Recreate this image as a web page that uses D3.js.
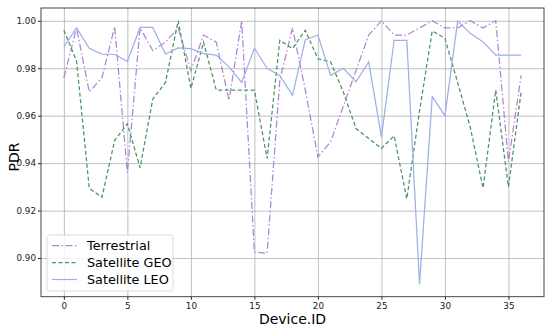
<!DOCTYPE html>
<html>
<head>
<meta charset="utf-8">
<script src="https://cdn.jsdelivr.net/npm/d3@7"></script>
<style>
  body { margin: 0; background: #fff; }
  text { font-family: "DejaVu Sans", sans-serif; }
  .grid line { stroke: #b0b0b0; stroke-width: 0.8; }
  .grid path { display: none; }
  .axis text { font-size: 8.8px; fill: #222; }
  .axis line { stroke: #222; }
  .axis path { display: none; }
  .line { fill: none; }
</style>
</head>
<body>
<div id="chart"></div>
<script>
const deviceIds = d3.range(0, 37);

const terrestrial = [0.976, 0.997, 0.970, 0.976, 0.9975, 0.936, 0.997, 0.9875, 0.991, 0.997,
                     0.979, 0.994, 0.991, 0.9665, 1.000, 0.9025, 0.902, 0.975, 0.997, 0.971,
                     0.9426, 0.949, 0.964, 0.979, 0.994, 1.000, 0.994, 0.994, 0.997, 1.000,
                     0.997, 0.997, 1.000, 0.997, 1.000, 0.9405, 0.977];

const satelliteGEO = [0.996, 0.983, 0.9294, 0.9256, 0.9496, 0.9566, 0.938, 0.967, 0.974, 1.000,
                      0.9715, 0.991, 0.9708, 0.9708, 0.9708, 0.9708, 0.942, 0.9918, 0.9883, 0.996,
                      0.984, 0.9827, 0.970, 0.9546, 0.9504, 0.9462, 0.9515, 0.925, 0.962, 0.9957,
                      0.9926, 0.974, 0.955, 0.9295, 0.9708, 0.930, 0.970];

const satelliteLEO = [0.989, 0.997, 0.9884, 0.986, 0.9858, 0.9829, 0.9972, 0.9972, 0.986, 0.9886,
                      0.9883, 0.9862, 0.9855, 0.9806, 0.974, 0.9884, 0.980, 0.977, 0.9686, 0.9919,
                      0.994, 0.977, 0.980, 0.9743, 0.9827, 0.951, 0.9918, 0.9918, 0.889, 0.968,
                      0.960, 0.9999, 0.9947, 0.9911, 0.9855, 0.9855, 0.9855];

const xTicks = [0, 5, 10, 15, 20, 25, 30, 35];
const yTicks = [0.90, 0.92, 0.94, 0.96, 0.98, 1.00];

const series = [
    { name: "Terrestrial", values: terrestrial, color: "#ae84d6", dash: "7,2.5,1.5,2.5" },
    { name: "Satellite GEO", values: satelliteGEO, color: "#4a9166", dash: "4,2.5" },
    { name: "Satellite LEO", values: satelliteLEO, color: "#9cb1e6", dash: null }
];

const margin = { top: 8, right: 6, bottom: 31.3, left: 41 },
      width = 550 - margin.left - margin.right,
      height = 328 - margin.top - margin.bottom;

const svg = d3.select("#chart")
              .append("svg")
              .attr("width", 550)
              .attr("height", 328)
              .append("g")
              .attr("transform", `translate(${margin.left},${margin.top})`);

const xScale = d3.scaleLinear()
                 .domain([-1.8, 37.8])
                 .range([0, width]);

const yScale = d3.scaleLinear()
                 .domain([0.8837, 1.0054])
                 .range([height, 0]);

// grid
svg.append("g")
   .attr("class", "grid")
   .attr("transform", `translate(0,${height})`)
   .call(d3.axisBottom(xScale).tickValues(xTicks).tickSize(-height).tickFormat(""));

svg.append("g")
   .attr("class", "grid")
   .call(d3.axisLeft(yScale).tickValues(yTicks).tickSize(-width).tickFormat(""));

// lines
const line = d3.line()
               .x((d, i) => xScale(deviceIds[i]))
               .y(d => yScale(d));

series.forEach(s => {
    svg.append("path")
       .datum(s.values)
       .attr("class", "line")
       .attr("stroke", s.color)
       .attr("stroke-width", 1.25)
       .attr("stroke-dasharray", s.dash)
       .attr("d", line);
});

// axes
svg.append("g")
   .attr("class", "axis")
   .attr("transform", `translate(0,${height})`)
   .call(d3.axisBottom(xScale).tickValues(xTicks).tickSize(3).tickPadding(3));

svg.append("g")
   .attr("class", "axis")
   .call(d3.axisLeft(yScale).tickValues(yTicks).tickSize(3).tickPadding(2).tickFormat(d3.format(".2f")));

svg.append("rect")
   .attr("width", width)
   .attr("height", height)
   .attr("fill", "none")
   .attr("stroke", "#333")
   .attr("stroke-width", 0.9);

svg.append("text")
   .attr("x", width / 2)
   .attr("y", height + 27)
   .attr("text-anchor", "middle")
   .attr("font-size", "14px")
   .text("Device.ID");

svg.append("text")
   .attr("transform", "rotate(-90)")
   .attr("x", -(157 - margin.top))
   .attr("y", 19 - margin.left)
   .attr("text-anchor", "middle")
   .attr("font-size", "14px")
   .text("PDR");

// legend
const legend = svg.append("g")
                  .attr("class", "legend")
                  .attr("transform", `translate(${47 - margin.left},${235 - margin.top})`);

legend.append("rect")
      .attr("width", 126)
      .attr("height", 56)
      .attr("rx", 2.5)
      .attr("fill", "rgba(255,255,255,0.8)")
      .attr("stroke", "#d0d0d0")
      .attr("stroke-width", 0.8);

series.forEach((s, i) => {
    const y = 10.5 + i * 17;
    legend.append("line")
          .attr("x1", 5)
          .attr("x2", 30)
          .attr("y1", y)
          .attr("y2", y)
          .attr("stroke", s.color)
          .attr("stroke-width", 1.25)
          .attr("stroke-dasharray", s.dash);
    legend.append("text")
          .attr("x", 40)
          .attr("y", y)
          .attr("dy", "0.35em")
          .attr("font-size", "12.8px")
          .text(s.name);
});
</script>
</body>
</html>
